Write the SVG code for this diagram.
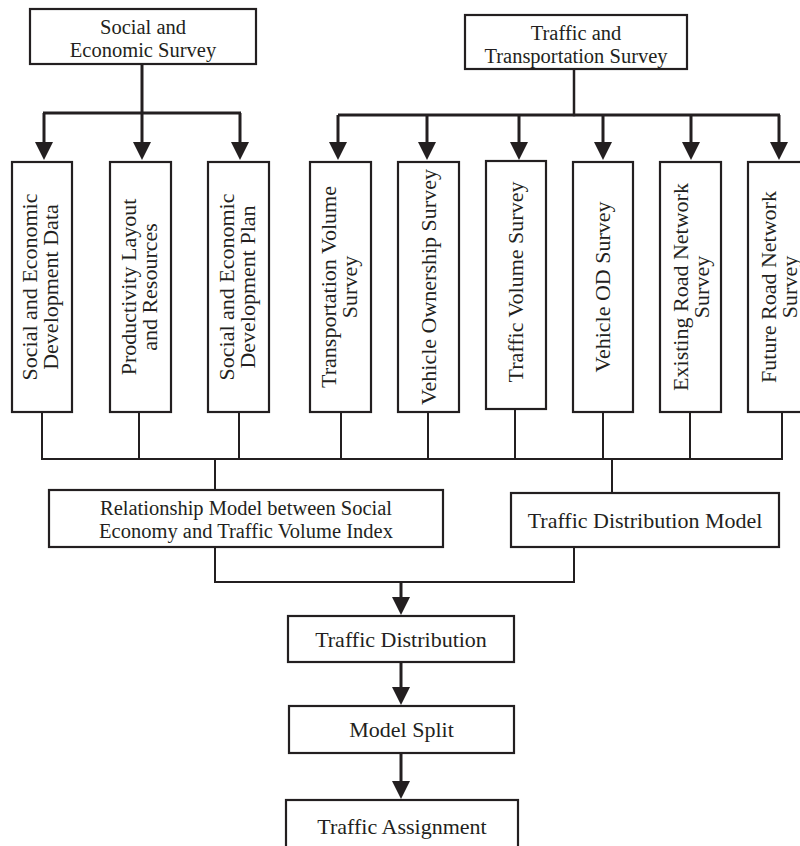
<svg xmlns="http://www.w3.org/2000/svg" width="800" height="846" viewBox="0 0 800 846">
<style>
.box{fill:#fff;stroke:#231f20;stroke-width:2.2}
.t{font-family:"Liberation Serif","Times New Roman",serif;font-size:22px;fill:#231f20;text-anchor:middle}
.t2{font-size:20.5px}
.ln{fill:none;stroke:#231f20;stroke-width:2;stroke-linecap:square}
.ar{fill:none;stroke:#231f20;stroke-width:3;marker-end:url(#ah)}
</style>
<defs>
<marker id="ah" markerUnits="userSpaceOnUse" markerWidth="18" markerHeight="18" refX="10" refY="9" orient="auto">
<path d="M0,0 L18,9 L0,18 Z" fill="#231f20"/>
</marker>
</defs>
<rect width="800" height="846" fill="#fff"/>

<g id="connectors">
<path class="ar" d="M142,64 V152"/>
<path class="ar" d="M43,113 H241" style="marker-end:none"/>
<path class="ar" d="M44,113 V152"/>
<path class="ar" d="M240,113 V152"/>
<path class="ln" d="M574,69 V115" style="stroke-width:2.5"/>
<path class="ar" d="M338,115 H780" style="marker-end:none"/>
<path class="ar" d="M338,115 V152"/>
<path class="ar" d="M427,115 V152"/>
<path class="ar" d="M519,115 V152"/>
<path class="ar" d="M603,115 V152"/>
<path class="ar" d="M691,115 V152"/>
<path class="ar" d="M779,115 V152"/>
<path class="ln" d="M42,412 V459 M139,412 V459 M239,412 V459 M341,412 V459 M428,412 V459 M515,409 V459 M603,412 V459 M690,412 V459 M782,411 V459"/>
<path class="ln" d="M42,459 H782"/>
<path class="ln" d="M215,459 V490 M612,459 V493"/>
<path class="ln" d="M215,547 V582 H574 V547"/>
<path class="ar" d="M401,582 V607"/>
<path class="ar" d="M401,662 V697"/>
<path class="ar" d="M401,753 V791"/>
</g>

<g id="n-social-survey">
<rect class="box" x="30" y="9" width="226" height="55"/>
<text class="t t2"><tspan x="143" y="34">Social and</tspan><tspan x="143" y="57">Economic Survey</tspan></text>
</g>
<g id="n-traffic-survey">
<rect class="box" x="465" y="15" width="222" height="54"/>
<text class="t t2"><tspan x="576" y="40">Traffic and</tspan><tspan x="576" y="63">Transportation Survey</tspan></text>
</g>

<g id="n-sed-data">
<rect class="box" x="12" y="162" width="60" height="250"/>
<text class="t" transform="translate(42,287) rotate(-90)"><tspan x="0" y="-5">Social and Economic</tspan><tspan x="0" y="16">Development Data</tspan></text>
</g>
<g id="n-productivity">
<rect class="box" x="110" y="162" width="61" height="250"/>
<text class="t" transform="translate(140.5,287) rotate(-90)"><tspan x="0" y="-5">Productivity Layout</tspan><tspan x="0" y="16">and Resources</tspan></text>
</g>
<g id="n-sed-plan">
<rect class="box" x="208" y="162" width="61" height="250"/>
<text class="t" transform="translate(238.5,287) rotate(-90)"><tspan x="0" y="-5">Social and Economic</tspan><tspan x="0" y="16">Development Plan</tspan></text>
</g>
<g id="n-transport-volume">
<rect class="box" x="310" y="162" width="61" height="250"/>
<text class="t" transform="translate(340.5,287) rotate(-90)"><tspan x="0" y="-5">Transportation Volume</tspan><tspan x="0" y="16">Survey</tspan></text>
</g>
<g id="n-vehicle-ownership">
<rect class="box" x="398" y="162" width="61" height="250"/>
<text class="t" transform="translate(428.5,287) rotate(-90)" y="7">Vehicle Ownership Survey</text>
</g>
<g id="n-traffic-volume">
<rect class="box" x="486" y="161" width="60" height="248"/>
<text class="t" transform="translate(516,282) rotate(-90)" y="7">Traffic Volume Survey</text>
</g>
<g id="n-vehicle-od">
<rect class="box" x="573" y="162" width="60" height="250"/>
<text class="t" transform="translate(603,287) rotate(-90)" y="7">Vehicle OD Survey</text>
</g>
<g id="n-existing-road">
<rect class="box" x="660" y="162" width="61" height="250"/>
<text class="t" transform="translate(690.5,287) rotate(-90)"><tspan x="0" y="-3">Existing Road Network</tspan><tspan x="0" y="18">Survey</tspan></text>
</g>
<g id="n-future-road">
<rect class="box" x="748" y="162" width="61" height="250"/>
<text class="t" transform="translate(778.5,287) rotate(-90)"><tspan x="0" y="-3">Future Road Network</tspan><tspan x="0" y="18">Survey</tspan></text>
</g>

<g id="n-relationship-model">
<rect class="box" x="49" y="490" width="394" height="57"/>
<text class="t t2"><tspan x="246" y="515">Relationship Model between Social</tspan><tspan x="246" y="538">Economy and Traffic Volume Index</tspan></text>
</g>
<g id="n-distribution-model">
<rect class="box" x="511" y="493" width="268" height="54"/>
<text class="t" x="645" y="528">Traffic Distribution Model</text>
</g>
<g id="n-traffic-distribution">
<rect class="box" x="288" y="616" width="226" height="46"/>
<text class="t" x="401" y="647">Traffic Distribution</text>
</g>
<g id="n-model-split">
<rect class="box" x="289" y="706" width="225" height="47"/>
<text class="t" x="401.5" y="737">Model Split</text>
</g>
<g id="n-traffic-assignment">
<rect class="box" x="286" y="800" width="232" height="60"/>
<text class="t" x="402" y="834">Traffic Assignment</text>
</g>
</svg>
